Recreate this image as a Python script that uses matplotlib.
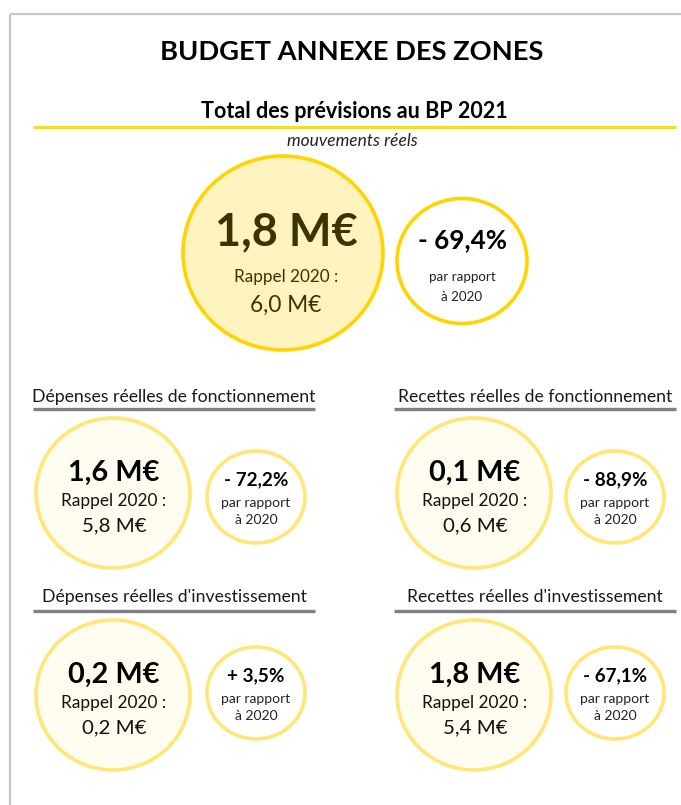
import matplotlib
matplotlib.use("Agg")
import matplotlib.pyplot as plt
from matplotlib.patches import Ellipse

plt.rcParams['font.family'] = ['Lato', 'DejaVu Sans']

# ---- data ----
main_title = "BUDGET ANNEXE DES ZONES"
sub_title = "Total des prévisions au BP 2021"
sub_note = "mouvements réels"
total_2021 = 1.8
total_2020 = 6.0
total_change = -69.4

sections = ["Dépenses réelles de fonctionnement",
            "Recettes réelles de fonctionnement",
            "Dépenses réelles d'investissement",
            "Recettes réelles d'investissement"]
values_2021 = [1.6, 0.1, 0.2, 1.8]
values_2020 = [5.8, 0.6, 0.2, 5.4]
changes = [-72.2, -88.9, 3.5, -67.1]


def fr(v, d=1):
    return f"{v:.{d}f}".replace(".", ",")


def pct(v):
    sign = "-" if v < 0 else "+"
    return f"{sign} {fr(abs(v))}%"


W, H = 681, 805
fig = plt.figure(figsize=(W / 100, H / 100), dpi=100)
ax = fig.add_axes([0, 0, 1, 1])
ax.set_xlim(0, W)
ax.set_ylim(H, 0)
ax.axis("off")

# frame
ax.plot([9.5, W], [14, 14], color="#C8C8C8", lw=1.6, solid_capstyle="butt")
ax.plot([9.5, 9.5], [14, H], color="#C8C8C8", lw=1.6, solid_capstyle="butt")

# titles
ax.text(352, 52, main_title, ha="center", va="center", fontsize=19.6,
        fontweight="bold", color="black")
ax.text(354, 112, sub_title, ha="center", va="center", fontsize=15.5,
        fontweight="bold", color="black")
ax.plot([33, 676], [127, 127], color="#FFE000", lw=2.2, solid_capstyle="butt")
ax.text(352, 141, sub_note, ha="center", va="center", fontsize=12.5,
        style="italic", color="#222222")

# main circles
olive = "#3B3300"
bcx, bcy = 283, 253
ax.add_patch(Ellipse((bcx, bcy), 200, 194, facecolor="#FFF3C0", edgecolor="#FFD400", lw=2.6))
ax.text(bcx + 3, 232, f"{fr(total_2021)} M€", ha="center", va="center",
        fontsize=32.5, fontweight="bold", color=olive)
ax.text(bcx + 3, 277, "Rappel 2020 :", ha="center", va="center", fontsize=12.3, color=olive)
ax.text(bcx + 3, 305, f"{fr(total_2020)} M€", ha="center", va="center", fontsize=16.3, color=olive)

scx, scy = 462, 261
ax.add_patch(Ellipse((scx, scy), 130, 125, facecolor="white", edgecolor="#FFD400", lw=2.6))
ax.text(scx, 240, pct(total_change), ha="center", va="center",
        fontsize=18.7, fontweight="bold", color="black")
ax.text(scx, 277, "par rapport", ha="center", va="center", fontsize=9.6, color="#222222")
ax.text(scx, 297, "à 2020", ha="center", va="center", fontsize=9.6, color="#222222")

# sections
col_line = [(33, 315), (394, 676)]
big_cx = [113, 474]
small_cx = [256, 615]
row_head_y = [397, 597]
row_line_y = [409, 611]
row_big_cy = [493, 695]
row_small_cy = [497, 693]

for i, name in enumerate(sections):
    r, c = divmod(i, 2)
    x0, x1 = col_line[c]
    xm = (x0 + x1) / 2
    ax.text(xm, row_head_y[r], name, ha="center", va="center", fontsize=12.7,
            color="#1A1A1A")
    ax.plot([x0, x1], [row_line_y[r]] * 2, color="#808080", lw=2.4,
            solid_capstyle="butt")
    cy = row_big_cy[r]
    bx = big_cx[c]
    ax.add_patch(Ellipse((bx, cy), 154, 150, facecolor="#FFFCF0", edgecolor="#FFE676", lw=2.6))
    ax.text(bx + 1, cy - 20, f"{fr(values_2021[i])} M€", ha="center", va="center",
            fontsize=20.8, fontweight="bold", color="black")
    ax.text(bx + 1, cy + 8, "Rappel 2020 :", ha="center", va="center", fontsize=12.4,
            color="#111111")
    ax.text(bx + 1, cy + 33, f"{fr(values_2020[i])} M€", ha="center", va="center",
            fontsize=14.7, color="#111111")
    sx = small_cx[c]
    sy = row_small_cy[r]
    ax.add_patch(Ellipse((sx, sy), 98, 92, facecolor="white", edgecolor="#FFE676", lw=2.6))
    ax.text(sx, sy - 17, pct(changes[i]), ha="center", va="center", fontsize=13.6,
            fontweight="bold", color="black")
    ax.text(sx, sy + 6, "par rapport", ha="center", va="center", fontsize=10,
            color="#222222")
    ax.text(sx, sy + 23, "à 2020", ha="center", va="center", fontsize=10,
            color="#222222")

fig.savefig("out.png", dpi=100)
